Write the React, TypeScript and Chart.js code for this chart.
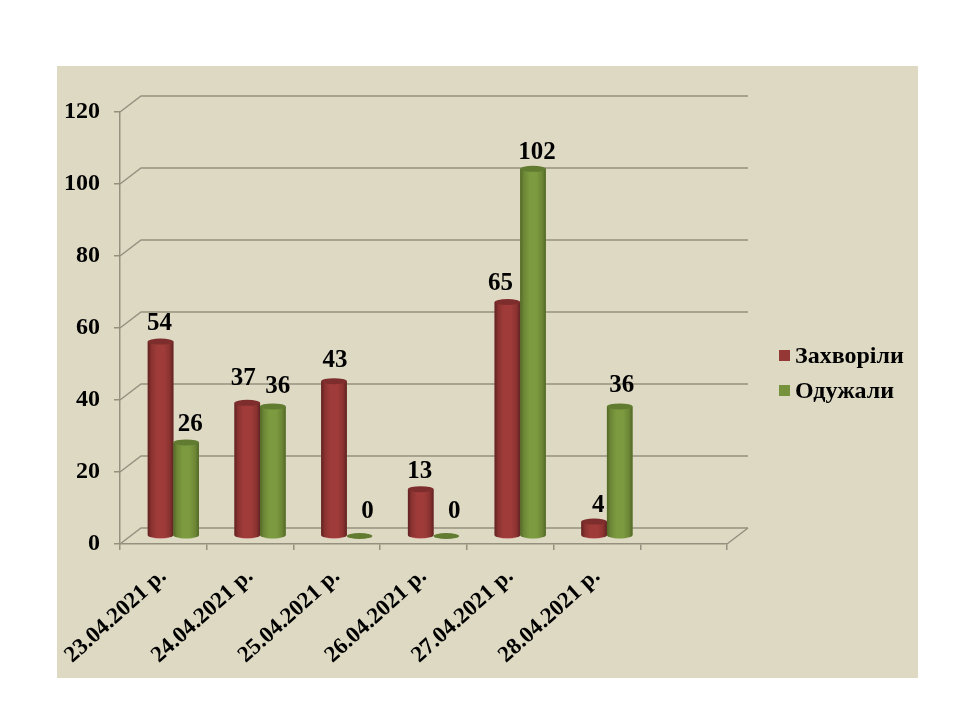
import React, { useEffect, useRef } from "react";
import { Chart, registerables } from "chart.js";

Chart.register(...registerables);

const categories = ["23.04.2021 р.", "24.04.2021 р.", "25.04.2021 р.", "26.04.2021 р.", "27.04.2021 р.", "28.04.2021 р.", ""];
const sick = [54, 37, 43, 13, 65, 4, null];
const recovered = [26, 36, 0, 0, 102, 36, null];
const yMax = 120;
const yStep = 20;
const sickNudge = [[-1, 0], [-4, -6], [1, -3], [-1, 0], [-7, 0], [4, 2]];
const recoveredNudge = [[4, 0], [5, -2], [8, -6], [8, -6], [4, 2], [2, -3]];

const PANEL = "#ddd9c3";
const GRID = "#96917f";
const SERIF = "'Liberation Serif', serif";
const DEPTH_X = 21;
const DEPTH_Y = 16;
const BAR_DX = 10;
const BAR_DY = -8;

const RED = { dark: "#5e2322", mid: "#9f3c3a", edge: "#8a3230", cap: "#7d2e2c", floor: "#dca8a4" };
const GREEN = { dark: "#516826", mid: "#7c9a3f", edge: "#6c8636", cap: "#617b31", floor: "#a9bc7f" };

function cylinder(ctx: CanvasRenderingContext2D, el: any, c: typeof RED) {
  const w = el.width;
  const left = el.x - w / 2;
  const ry = 3;
  const top = el.y;
  const base = el.base;
  if (Math.abs(base - top) < 1) {
    ctx.fillStyle = c.cap;
    ctx.beginPath();
    ctx.ellipse(el.x, base, w / 2, ry, 0, 0, Math.PI * 2);
    ctx.fill();
    return;
  }
  ctx.fillStyle = c.floor;
  ctx.beginPath();
  ctx.ellipse(el.x, base + 0.6, w / 2 - 2, ry, 0, 0, Math.PI);
  ctx.fill();
  const g = ctx.createLinearGradient(left, 0, left + w, 0);
  g.addColorStop(0, c.dark);
  g.addColorStop(0.14, c.edge);
  g.addColorStop(0.36, c.mid);
  g.addColorStop(0.64, c.mid);
  g.addColorStop(0.86, c.edge);
  g.addColorStop(1, c.dark);
  ctx.fillStyle = g;
  ctx.beginPath();
  ctx.moveTo(left, top);
  ctx.lineTo(left, base);
  ctx.ellipse(el.x, base, w / 2, ry, 0, Math.PI, 0, true);
  ctx.lineTo(left + w, top);
  ctx.closePath();
  ctx.fill();
  ctx.fillStyle = c.cap;
  ctx.beginPath();
  ctx.ellipse(el.x, top, w / 2, ry, 0, 0, Math.PI * 2);
  ctx.fill();
}

const panelPlugin = {
  id: "panel",
  beforeDraw(chart: any) {
    const { ctx, chartArea, scales } = chart;
    ctx.save();
    ctx.fillStyle = "#ffffff";
    ctx.fillRect(0, 0, chart.width, chart.height);
    ctx.fillStyle = PANEL;
    ctx.fillRect(57, 66, 861, 612);
    ctx.strokeStyle = GRID;
    ctx.lineWidth = 1.5;
    const { left, right, bottom } = chartArea;
    for (let v = 0; v <= yMax; v += yStep) {
      const y = scales.y.getPixelForValue(v);
      ctx.beginPath();
      ctx.moveTo(left, y);
      ctx.lineTo(left + DEPTH_X, y - DEPTH_Y);
      ctx.lineTo(right + DEPTH_X, y - DEPTH_Y);
      ctx.stroke();
    }
    ctx.beginPath();
    ctx.moveTo(right, bottom);
    ctx.lineTo(right + DEPTH_X, bottom - DEPTH_Y);
    ctx.stroke();
    ctx.restore();
  },
  beforeDatasetsDraw(chart: any) {
    chart.ctx.save();
    chart.ctx.translate(BAR_DX, BAR_DY);
  },
  afterDatasetsDraw(chart: any) {
    const ctx = chart.ctx;
    const metaA = chart.getDatasetMeta(0);
    const metaB = chart.getDatasetMeta(1);
    categories.forEach((_, i) => {
      if (sick[i] === null) return;
      cylinder(ctx, metaA.data[i], RED);
      cylinder(ctx, metaB.data[i], GREEN);
    });
    ctx.fillStyle = "#000";
    ctx.font = `bold 25px ${SERIF}`;
    ctx.textAlign = "center";
    ctx.textBaseline = "middle";
    categories.forEach((_, i) => {
      if (sick[i] === null) return;
      ctx.fillText(String(sick[i]), metaA.data[i].x + sickNudge[i][0], metaA.data[i].y - 18 + sickNudge[i][1]);
      ctx.fillText(String(recovered[i]), metaB.data[i].x + recoveredNudge[i][0], metaB.data[i].y - 18 + recoveredNudge[i][1]);
    });
    ctx.restore();
  },
  afterDraw(chart: any) {
    const ctx = chart.ctx;
    ctx.save();
    ctx.font = `bold 24px ${SERIF}`;
    ctx.textAlign = "left";
    ctx.textBaseline = "middle";
    chart.data.datasets.forEach((ds: any, i: number) => {
      const y = 355 + i * 35;
      ctx.fillStyle = ds.backgroundColor;
      ctx.fillRect(779, y - 5, 11, 11);
      ctx.fillStyle = "#000";
      ctx.fillText(ds.label, 795, y + 2);
    });
    ctx.restore();
  },
};

export default function App() {
  const ref = useRef<HTMLCanvasElement>(null);
  useEffect(() => {
    const chart = new Chart(ref.current as HTMLCanvasElement, {
      type: "bar",
      plugins: [panelPlugin],
      data: {
        labels: categories,
        datasets: [
          { label: "Захворіли", data: sick, backgroundColor: "#953735", categoryPercentage: 0.59, barPercentage: 1, clip: false },
          { label: "Одужали", data: recovered, backgroundColor: "#76923c", categoryPercentage: 0.59, barPercentage: 1, clip: false },
        ],
      } as any,
      options: {
        responsive: false,
        animation: false,
        devicePixelRatio: 1,
        layout: { autoPadding: false, padding: { top: 112, right: 233, left: 0, bottom: 0 } },
        plugins: { legend: { display: false }, tooltip: { enabled: false } },
        scales: {
          x: {
            afterFit(s: any) { s.height = 176; },
            border: { color: GRID, width: 1.5 },
            grid: { drawOnChartArea: false, drawTicks: true, tickLength: 6, color: GRID, lineWidth: 1.5 },
            ticks: {
              minRotation: 42,
              maxRotation: 42,
              autoSkip: false,
              padding: 13,
              color: "#000",
              font: { family: SERIF, size: 23, weight: "bold" },
            },
          },
          y: {
            min: 0,
            max: yMax,
            afterFit(s: any) { s.width = 120; },
            border: { color: GRID, width: 1.5 },
            grid: { drawOnChartArea: false, drawTicks: true, tickLength: 6, color: GRID, lineWidth: 1.5 },
            ticks: {
              stepSize: yStep,
              padding: 14,
              color: "#000",
              font: { family: SERIF, size: 24, weight: "bold" },
            },
          },
        },
      } as any,
    });
    return () => chart.destroy();
  }, []);
  return (
    <div style={{ position: "absolute", left: 0, top: 0, width: 960, height: 720 }}>
      <canvas ref={ref} width={960} height={720} style={{ display: "block" }} />
    </div>
  );
}
